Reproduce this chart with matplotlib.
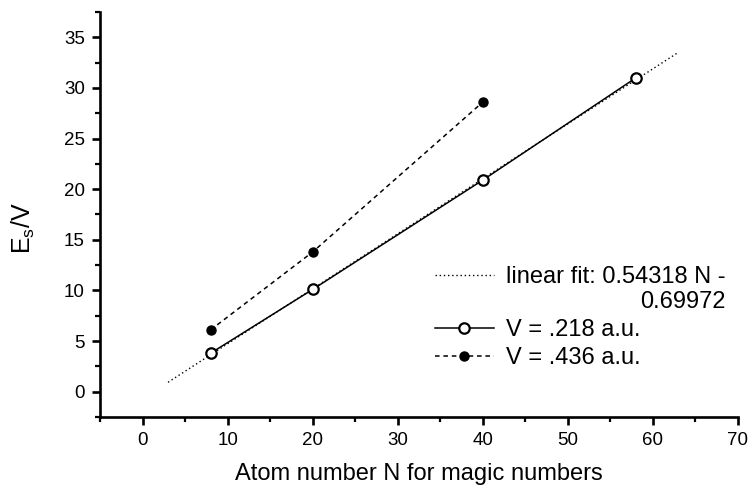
import numpy as np
import matplotlib
matplotlib.use("Agg")
import matplotlib.pyplot as plt
from matplotlib.ticker import MultipleLocator
from matplotlib.legend_handler import HandlerLine2D

plt.rcParams['font.family'] = ['Liberation Sans', 'DejaVu Sans']
plt.rcParams['mathtext.fontset'] = 'custom'
plt.rcParams['mathtext.rm'] = 'Liberation Sans'

# data
n_low = [8, 20, 40, 58]
es_low = [3.8, 10.1, 20.9, 31.0]
n_high = [8, 20, 40]
es_high = [6.1, 13.8, 28.6]
fit_slope = 0.54318
fit_icpt = -0.69972
fit_range = [3, 63]


# legend handle sitting on the first line of a two line label
class RaisedLine(HandlerLine2D):
    def create_artists(self, legend, orig_handle, xdescent, ydescent, width,
                       height, fontsize, trans):
        return super().create_artists(legend, orig_handle, xdescent, ydescent - 21,
                                      width, height, fontsize, trans)


fig = plt.figure(figsize=(7.48, 4.86), dpi=100)
ax = fig.add_axes([100/748, 1-417/486, 638/748, 405/486])

nf = np.linspace(fit_range[0], fit_range[1], 50)
fit_line, = ax.plot(nf, fit_slope*nf + fit_icpt, color='k', lw=1.0, ls=(0, (1, 2)),
                    label='linear fit: 0.54318 N -\n0.69972')
ax.plot(n_low, es_low, color='k', lw=1.1, ls='-', marker='o', ms=7.5,
        mfc='white', mec='k', mew=1.6, label='V = .218 a.u.')
ax.plot(n_high, es_high, color='k', lw=1.1, ls=(0, (3, 2.5)), marker='o', ms=6.5,
        mfc='k', mec='k', label='V = .436 a.u.')

ax.set_xlim(-5, 70)
ax.set_ylim(-2.5, 37.5)
ax.xaxis.set_major_locator(MultipleLocator(10))
ax.xaxis.set_minor_locator(MultipleLocator(5))
ax.yaxis.set_major_locator(MultipleLocator(5))
ax.yaxis.set_minor_locator(MultipleLocator(2.5))
for s in ['top', 'right']:
    ax.spines[s].set_visible(False)
for s in ['left', 'bottom']:
    ax.spines[s].set_linewidth(1.9)
ax.tick_params(which='major', direction='out', length=6, width=1.9, labelsize=13.5, pad=5)
ax.tick_params(which='minor', direction='out', length=3.5, width=1.6)

ax.set_xlabel('Atom number N for magic numbers', fontsize=17, labelpad=10)
ax.set_ylabel(r'E$_\mathregular{s}$/V', fontsize=18)
ax.yaxis.set_label_coords(-0.099, 0.467)

leg = ax.legend(loc='upper left', bbox_to_anchor=(423/748, 1-254/486),
                bbox_transform=fig.transFigure, frameon=False, fontsize=17,
                handlelength=2.5, handletextpad=0.5, borderpad=0, labelspacing=0.25,
                handler_map={fit_line: RaisedLine()})
for t in leg.get_texts():
    t.set_multialignment('right')

fig.savefig('out.png', dpi=100)
